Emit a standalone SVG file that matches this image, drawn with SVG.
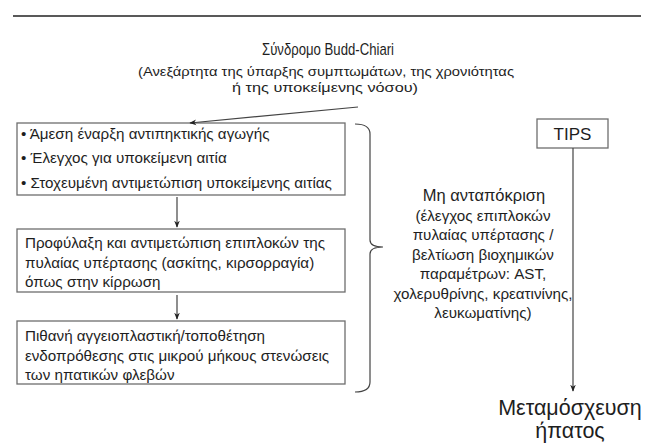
<svg xmlns="http://www.w3.org/2000/svg" width="648" height="446" viewBox="0 0 648 446">
<style>
text{font-family:"Liberation Sans",Arial,sans-serif;fill:#1e1e1e}
.box{fill:#fff;stroke:#6e6e6e;stroke-width:1.3}
.t{font-size:15.2px}
.sub{font-size:13.5px}
.c{text-anchor:middle}
.ln{stroke:#444;stroke-width:1.2;fill:none}
</style>
<defs>
<marker id="ah" viewBox="0 0 10 10" refX="9" refY="5" markerWidth="7" markerHeight="7" orient="auto" markerUnits="userSpaceOnUse">
<path d="M0,1 L10,5 L0,9 L3,5 Z" fill="#222"/>
</marker>
</defs>
<rect width="648" height="446" fill="#fff"/>
<line x1="13" y1="16" x2="641" y2="16" stroke="#222" stroke-width="1.5"/>
<g id="title">
<text class="c" x="328" y="55" font-size="17" textLength="132" lengthAdjust="spacingAndGlyphs">Σύνδρομο Budd-Chiari</text>
<text class="c sub" x="326" y="76" textLength="376" lengthAdjust="spacingAndGlyphs">(Ανεξάρτητα της ύπαρξης συμπτωμάτων, της χρονιότητας</text>
<text class="c sub" x="325" y="92" textLength="186" lengthAdjust="spacingAndGlyphs">ή της υποκείμενης νόσου)</text>
</g>
<g id="box1">
<rect class="box" x="17" y="123" width="328" height="72"/>
<text class="t" x="21" y="139">• Άμεση έναρξη αντιπηκτικής αγωγής</text>
<text class="t" x="21" y="163">• Έλεγχος για υποκείμενη αιτία</text>
<text class="t" x="21" y="188">• Στοχευμένη αντιμετώπιση υποκείμενης αιτίας</text>
</g>
<g id="box2">
<rect class="box" x="17" y="229" width="328" height="63"/>
<text class="t" x="25" y="248">Προφύλαξη και αντιμετώπιση επιπλοκών της</text>
<text class="t" x="25" y="268">πυλαίας υπέρτασης (ασκίτης, κιρσορραγία)</text>
<text class="t" x="25" y="287">όπως στην κίρρωση</text>
</g>
<g id="box3">
<rect class="box" x="17" y="321" width="328" height="63"/>
<text class="t" x="25" y="341">Πιθανή αγγειοπλαστική/τοποθέτηση</text>
<text class="t" x="25" y="361">ενδοπρόθεσης στις μικρού μήκους στενώσεις</text>
<text class="t" x="25" y="380">των ηπατικών φλεβών</text>
</g>
<g id="noresponse">
<text class="c" x="484" y="201" font-size="16.5">Μη ανταπόκριση</text>
<text class="c t" x="483" y="221">(έλεγχος επιπλοκών</text>
<text class="c t" x="483" y="240">πυλαίας υπέρτασης /</text>
<text class="c t" x="483" y="260">βελτίωση βιοχημικών</text>
<text class="c t" x="483" y="279">παραμέτρων: AST,</text>
<text class="c t" x="483" y="299">χολερυθρίνης, κρεατινίνης,</text>
<text class="c t" x="483" y="318">λευκωματίνης)</text>
</g>
<g id="tips">
<rect class="box" x="537" y="119" width="71" height="29"/>
<text class="c" x="572.5" y="140" font-size="17">TIPS</text>
</g>
<g id="transplant">
<text class="c" x="570" y="415" font-size="21.5">Μεταμόσχευση</text>
<text class="c" x="570" y="438" font-size="21.5">ήπατος</text>
</g>
<g id="connectors">
<line class="ln" x1="358" y1="107" x2="190" y2="123" marker-end="url(#ah)"/>
<line class="ln" x1="177" y1="197" x2="177" y2="227" marker-end="url(#ah)"/>
<line class="ln" x1="177" y1="295" x2="177" y2="319" marker-end="url(#ah)"/>
<line class="ln" x1="573" y1="148" x2="573" y2="391" marker-end="url(#ah)"/>
<path class="ln" d="M355,124 Q370,124 370,134 L370,240 Q370,247 383,247 Q370,247 370,254 L370,382 Q370,392 355,392" stroke="#666"/>
</g>
</svg>
